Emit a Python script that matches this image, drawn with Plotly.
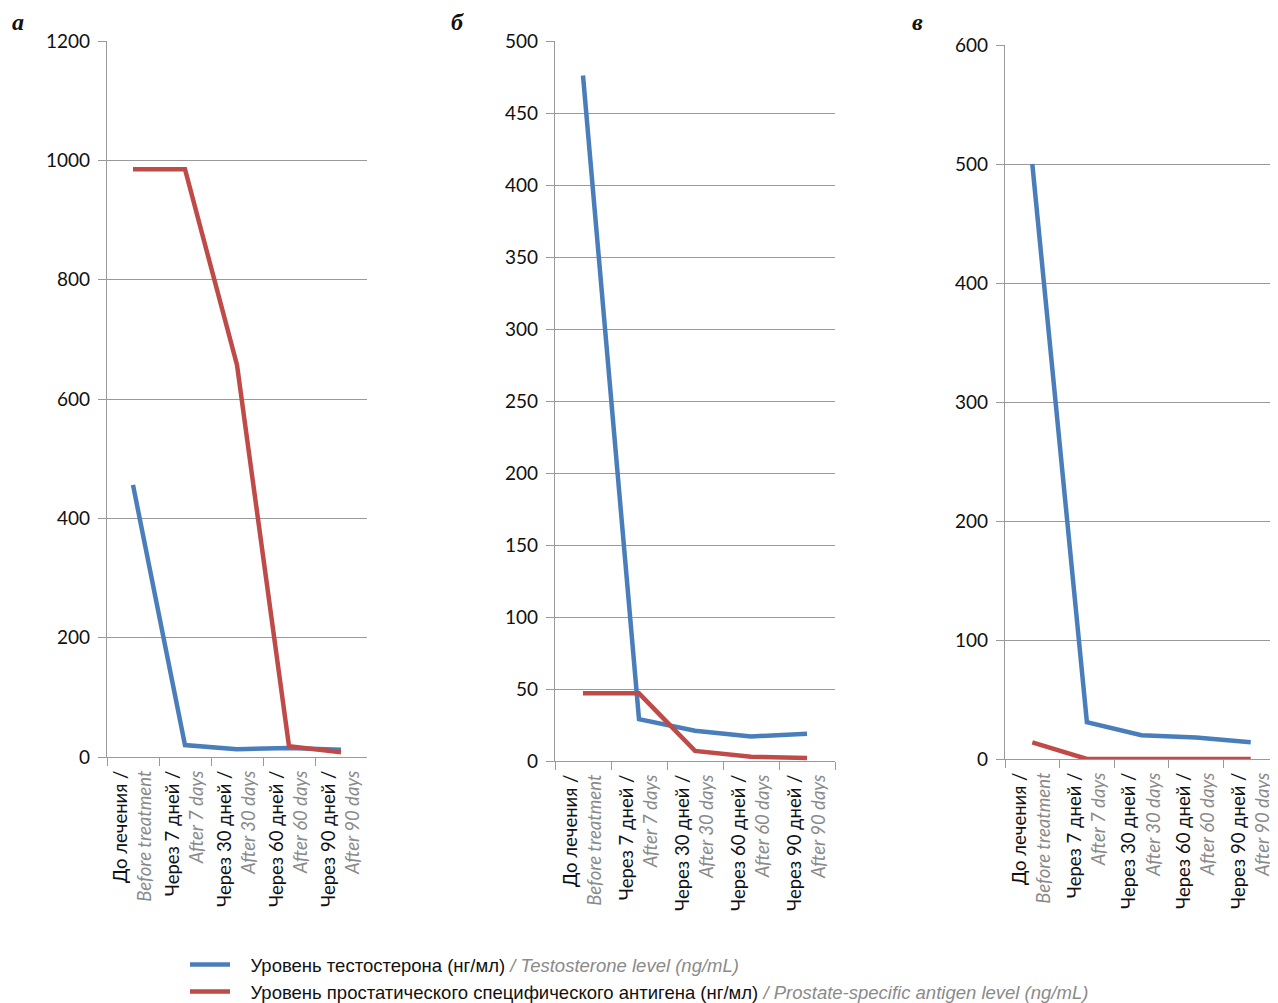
import plotly.graph_objects as go

categories_ru = ["До лечения /", "Через 7 дней /", "Через 30 дней /", "Через 60 дней /", "Через 90 дней /"]
categories_en = ["Before treatment", "After 7 days", "After 30 days", "After 60 days", "After 90 days"]

testo_a = [456, 20, 13, 15, 12]
psa_a = [985, 985, 657, 18, 8]
testo_b = [476, 29, 21, 17, 19]
psa_b = [47, 47, 7, 3, 2]
testo_c = [500, 31, 20, 18, 14]
psa_c = [14, 0, 0, 0, 0]

panel_letters = ["а", "б", "в"]
legend_ru = ["Уровень тестостерона (нг/мл)", "Уровень простатического специфического антигена (нг/мл)"]
legend_en = ["Testosterone level (ng/mL)", "Prostate-specific antigen level (ng/mL)"]

BLUE = "#4a7ebb"
RED = "#be4b48"
GRID = "#9a9a9a"
FONT = "Lato"

# page body has an 8px margin; size the figure to fit the window
W, H, OFF = 1270, 995, 8


def px_x(v):
    return min(1.0, max(0.0, (v - OFF) / W))


def px_y(v):
    return 1 - (v - OFF) / H


cat_keys = [f"c{i}" for i in range(len(categories_ru))]
cat_text = [f"{r}<br><span style='color:#8a8a8a'><i>{e}</i></span>" for r, e in zip(categories_ru, categories_en)]

fig = go.Figure()

panels = [
    (testo_a, psa_a, [0, 1200], 200, [px_x(107), px_x(367)], [px_y(757), px_y(41)]),
    (testo_b, psa_b, [0, 500], 50, [px_x(555), px_x(835)], [px_y(761), px_y(41)]),
    (testo_c, psa_c, [0, 600], 100, [px_x(1005), px_x(1280)], [px_y(759), px_y(45)]),
]

layout = {}
for i, (t, p, yr, dt, xd, yd) in enumerate(panels):
    n = "" if i == 0 else str(i + 1)
    xa, ya = "x" + n, "y" + n
    fig.add_trace(go.Scatter(x=cat_keys, y=t, mode="lines", xaxis=xa, yaxis=ya,
                             line=dict(color=BLUE, width=4.5),
                             name=f"&nbsp;&nbsp;&nbsp;{legend_ru[0]}<span style='color:#8a8a8a'><i> / {legend_en[0]}</i></span>",
                             showlegend=(i == 0), legendrank=1))
    fig.add_trace(go.Scatter(x=cat_keys, y=p, mode="lines", xaxis=xa, yaxis=ya,
                             line=dict(color=RED, width=4.5),
                             name=f"&nbsp;&nbsp;&nbsp;{legend_ru[1]}<span style='color:#8a8a8a'><i> / {legend_en[1]}</i></span>",
                             showlegend=(i == 0), legendrank=2))
    layout["xaxis" + n] = dict(domain=xd, anchor=ya, type="category", range=[-0.5, 4.5],
                               tickmode="array", tickvals=cat_keys, ticktext=cat_text,
                               tickangle=-90, tickson="boundaries", ticks="outside", ticklen=8,
                               tickcolor=GRID, tickwidth=1.3, showline=True, linecolor=GRID, linewidth=1.3,
                               showgrid=False, automargin=False, ticklabelstandoff=5,
                               tickfont=dict(family=FONT, size=18.5, color="#111"))
    layout["yaxis" + n] = dict(domain=yd, anchor=xa, range=yr, dtick=dt, tick0=0,
                               ticks="outside", ticklen=8, tickcolor=GRID, tickwidth=1.3,
                               showline=True, linecolor=GRID, linewidth=1.3, automargin=False,
                               ticklabelstandoff=4,
                               showgrid=True, gridcolor=GRID, gridwidth=1.3, zeroline=False,
                               tickfont=dict(family=FONT, size=19, color="#111"))

letter_pos = [(18, 22), (457, 22), (918, 22)]
annotations = []
for letter, (lx, ly) in zip(panel_letters, letter_pos):
    annotations.append(dict(text=f"<b><i>{letter}</i></b>", x=px_x(lx), y=px_y(ly),
                            xref="paper", yref="paper", showarrow=False, xanchor="center", yanchor="middle",
                            font=dict(family="Liberation Serif", size=24, color="#111")))

fig.update_layout(
    template="none",
    width=W, height=H,
    margin=dict(l=0, r=0, t=0, b=0, autoexpand=False),
    paper_bgcolor="white", plot_bgcolor="white",
    showlegend=True,
    legend=dict(x=px_x(185), y=px_y(946), xanchor="left", yanchor="top", orientation="v",
                font=dict(family="Liberation Sans Narrow, Liberation Sans, sans-serif", size=18.5, color="#111"),
                itemwidth=40, tracegroupgap=0, bgcolor="rgba(0,0,0,0)"),
    annotations=annotations,
    **layout,
)

fig.write_html("out.html")
